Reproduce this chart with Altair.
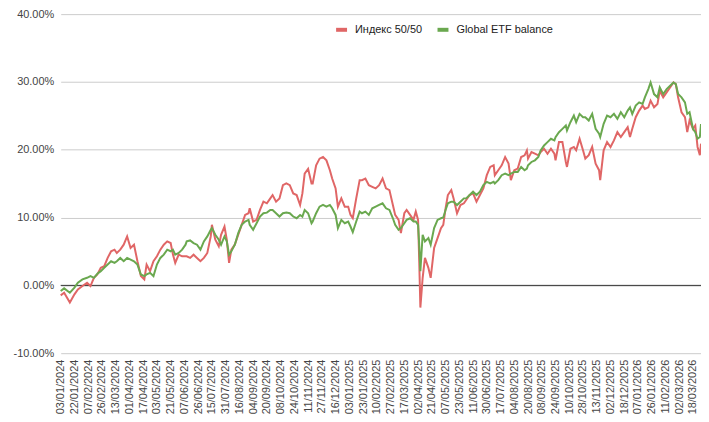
import altair as alt
import pandas as pd

# trading-day index (0 = 03/01/2024) of each sampled point
day_idx = [0, 3, 8, 12, 15, 19, 23, 26, 29, 32, 35, 38, 41, 44, 47, 49, 52, 55, 58, 61,
           64, 67, 70, 73, 75, 78, 81, 84, 87, 90, 93, 96, 98, 100, 103, 106, 109,
           110, 113, 116, 119, 122, 125, 128, 131, 132, 135, 138, 140, 143, 145, 147, 149,
           152, 155, 158, 161, 164, 165, 168, 171, 174, 177, 180, 183, 185, 188, 191, 194,
           197, 200, 203, 206, 209, 211, 213, 216, 219,
           220, 223, 226, 229, 232, 235, 237, 240, 242, 245, 248, 251, 253, 255, 258, 261,
           263, 266, 269, 272, 275, 278, 281, 284, 287, 290, 292, 295, 297, 300, 302, 305,
           308, 310, 312, 313, 314, 316, 318, 321, 323, 326, 329, 332, 334,
           336, 338, 341, 343, 346, 349, 352, 354, 357, 360, 363, 366, 369, 372, 375, 378,
           379, 382, 385, 388, 391, 393, 396, 399, 402, 405, 407, 408, 411, 414, 417, 419,
           422, 425, 428, 431, 432, 435, 438, 441, 442, 445,
           448, 450, 453, 456, 458, 461, 464, 467, 470, 471, 474, 477, 480, 483, 486, 489,
           492, 495, 497, 499, 502, 505, 508, 510, 513, 515, 518, 521, 523, 526, 529, 532,
           535, 537, 539, 542, 545, 547, 549, 552, 554, 556, 558, 559]

# values in percent
index_5050 = [-1.47, -1.08, -2.54, -1.32, -0.59, -0.10, 0.39, -0.10, 1.12, 1.61, 2.59, 2.83,
              4.05, 5.03, 5.27, 4.78, 5.27, 6.00, 7.22, 5.51, 6.00, 3.56, 1.37, 0.88, 3.07,
              2.10, 3.56, 4.29, 5.27, 6.00, 6.49, 6.25, 4.54, 3.32, 4.54, 4.29, 4.29,
              4.29, 4.05, 4.53, 4.05, 3.56, 4.05, 4.78, 7.22, 8.93, 6.73, 5.76, 7.46, 8.68,
              6.73, 3.31, 5.27, 6.00, 7.46, 8.93, 10.39, 10.64, 11.37, 9.42, 9.66, 11.12,
              12.34, 12.10, 12.83, 13.32, 12.34, 12.83, 14.78, 15.03, 14.78, 13.56, 13.32,
              11.86, 13.56, 16.49, 17.20, 15.03,
              15.03, 17.71, 18.69, 18.93, 18.44, 16.98, 15.76, 14.30, 11.61, 12.83, 11.61,
              11.61, 10.39, 9.90, 12.83, 15.52, 15.52, 15.76, 14.78, 14.54, 14.30, 14.78,
              15.76, 14.30, 14.05, 11.86, 10.39, 9.66, 7.71, 10.64, 11.12, 10.39, 9.66,
              10.88, 9.66, 3.56, -3.27, 1.12, 4.05, 2.58, 1.12, 5.51, 6.97, 8.44, 8.93,
              11.37, 13.32, 14.05, 12.83, 10.63, 11.85, 12.10, 12.59, 13.32, 13.56, 12.34,
              13.32, 14.29, 16.25, 17.47, 17.71, 16.25, 16.98, 17.71, 18.93, 17.96, 15.52,
              16.98, 17.22, 18.93, 19.18, 19.91, 18.69, 19.66, 19.42, 19.18, 19.66, 20.15,
              19.42, 20.15, 19.42, 18.44, 21.13, 21.13, 18.20, 17.47, 20.15,
              20.41, 19.92, 21.63, 19.92, 18.70, 19.19, 20.41, 17.96, 16.99, 15.52, 19.92,
              21.14, 20.41, 21.38, 22.60, 21.87, 22.60, 23.33, 21.87, 23.09, 24.80, 25.77,
              26.51, 26.02, 26.26, 27.24, 26.26, 26.75, 28.70, 27.73, 28.46, 29.19, 29.92,
              29.68, 27.73, 25.53, 24.80, 22.60, 24.31, 23.09, 23.58, 20.41, 19.19, 20.90]

global_etf = [-0.83, -0.44, -1.08, -0.34, 0.39, 0.88, 1.12, 1.37, 1.12, 1.71, 2.10, 2.59,
              3.07, 3.56, 3.32, 3.56, 4.05, 3.56, 4.05, 3.80, 3.56, 3.07, 1.61, 1.37, 1.61,
              1.85, 1.37, 3.07, 4.05, 4.54, 5.27, 5.03, 5.27, 4.54, 4.78, 5.27, 6.00,
              6.49, 6.63, 6.24, 6.00, 5.27, 6.49, 7.22, 8.20, 8.44, 7.46, 6.73, 6.00, 7.22,
              6.49, 4.53, 5.02, 6.00, 7.71, 8.93, 9.42, 9.66, 8.93, 8.20, 9.17, 10.15,
              10.64, 10.73, 11.12, 11.12, 10.64, 10.15, 10.64, 10.73, 10.64, 10.15, 9.90,
              10.39, 10.15, 11.12, 10.64, 9.17,
              9.42, 10.64, 11.61, 11.86, 11.61, 11.86, 11.37, 10.39, 8.44, 9.66, 9.17,
              9.42, 8.68, 7.85, 9.42, 10.88, 10.64, 10.88, 10.39, 11.37, 11.61, 11.86,
              12.10, 11.37, 11.12, 9.90, 8.93, 8.20, 8.44, 9.17, 9.66, 9.90, 9.42,
              9.42, 8.93, 6.00, 2.10, 7.46, 6.49, 6.98, 6.00, 8.44, 9.66, 9.90, 10.00,
              11.12, 12.10, 12.34, 12.34, 11.85, 12.34, 12.83, 12.83, 13.32, 13.81, 13.32,
              13.81, 14.78, 15.27, 15.03, 15.27, 15.03, 15.52, 16.25, 16.49, 16.25, 16.49,
              16.73, 16.73, 17.47, 16.98, 17.22, 17.71, 18.20, 18.44, 18.93, 19.91, 20.64,
              21.13, 21.62, 21.37, 21.86, 22.59, 23.08, 23.57, 22.84, 24.06,
              25.04, 24.07, 25.29, 24.80, 24.80, 24.31, 25.29, 23.09, 22.36, 21.87, 23.82,
              25.04, 24.80, 25.29, 24.55, 25.53, 24.80, 25.77, 26.26, 25.29, 26.51, 26.99,
              26.75, 27.73, 28.95, 29.92, 28.21, 27.73, 29.19, 28.21, 28.95, 29.43, 29.92,
              29.68, 28.21, 27.73, 26.99, 25.29, 25.53, 23.09, 22.60, 21.63, 21.87, 23.80]

series_names = ["Индекс 50/50", "Global ETF balance"]
series_colors = ["#e06666", "#6aa84f"]

tick_labels = ["03/01/2024", "22/01/2024", "07/02/2024", "26/02/2024", "13/03/2024",
               "01/04/2024", "17/04/2024", "03/05/2024", "21/05/2024", "07/06/2024",
               "26/06/2024", "15/07/2024", "31/07/2024", "16/08/2024", "04/09/2024",
               "20/09/2024", "08/10/2024", "24/10/2024", "11/11/2024", "27/11/2024",
               "16/12/2024", "03/01/2025", "23/01/2025", "10/02/2025", "27/02/2025",
               "17/03/2025", "02/04/2025", "21/04/2025", "07/05/2025", "23/05/2025",
               "11/06/2025", "30/06/2025", "17/07/2025", "04/08/2025", "20/08/2025",
               "08/09/2025", "24/09/2025", "10/10/2025", "28/10/2025", "13/11/2025",
               "02/12/2025", "18/12/2025", "07/01/2026", "26/01/2026", "11/02/2026",
               "02/03/2026", "18/03/2026"]
tick_step = 12
tick_values = [i * tick_step for i in range(len(tick_labels))]
y_ticks = [-0.1, 0.0, 0.1, 0.2, 0.3, 0.4]

df = pd.DataFrame({
    "day": day_idx + day_idx,
    "value": index_5050 + global_etf,
    "series": [series_names[0]] * len(day_idx) + [series_names[1]] * len(day_idx),
})

js_labels = "[" + ",".join("'" + t + "'" for t in tick_labels) + "]"
label_expr = js_labels + "[round(datum.value/" + str(tick_step) + ")]"

x_enc = alt.X("day:Q",
              scale=alt.Scale(domain=[0, 559], nice=False, zero=False),
              axis=alt.Axis(values=tick_values, labelExpr=label_expr, labelAngle=270,
                            grid=False, ticks=False, tickSize=0, domain=False,
                            labelPadding=6, labelFontSize=11, labelColor="#444444",
                            labelOverlap=False, title=None))
y_scale = alt.Scale(domain=[-0.1, 0.4], nice=False, zero=False)
y_axis = alt.Axis(values=y_ticks, format=".2%",
                  labelExpr="replace(datum.label, '\u2212', '-')",
                  grid=True, gridColor="#cccccc", gridWidth=1, ticks=False, tickSize=0,
                  domain=False, labelPadding=7, labelFontSize=11, labelColor="#444444",
                  title=None)

color_enc = alt.Color("series:N",
                      scale=alt.Scale(domain=series_names, range=series_colors),
                      legend=alt.Legend(orient="none", legendX=275, legendY=8,
                                        direction="horizontal", title=None,
                                        symbolType="stroke", symbolStrokeWidth=4,
                                        symbolSize=121, labelFontSize=11,
                                        labelColor="#222222", labelOffset=6,
                                        columnPadding=7, padding=0))

base = alt.Chart(df).transform_calculate(v="datum.value/100")

red = base.transform_filter(alt.datum.series == series_names[0]).mark_line(
    strokeWidth=2).encode(x=x_enc, y=alt.Y("v:Q", scale=y_scale, axis=y_axis), color=color_enc)
green = base.transform_filter(alt.datum.series == series_names[1]).mark_line(
    strokeWidth=2).encode(x=x_enc, y=alt.Y("v:Q", scale=y_scale, axis=y_axis), color=color_enc)

zero = alt.Chart(pd.DataFrame({"v": [0.0]})).mark_rule(color="#333333", strokeWidth=1).encode(
    y=alt.Y("v:Q", scale=y_scale, axis=y_axis))

chart = alt.layer(zero, red, green).properties(
    width=644, height=341,
    padding={"left": 53, "top": 5, "right": 0, "bottom": 62},
    autosize=alt.AutoSizeParams(type="none"),
).configure(font="Liberation Sans").configure_view(stroke=None)

chart.save("out.html", embed_options={"renderer": "svg", "actions": False})
